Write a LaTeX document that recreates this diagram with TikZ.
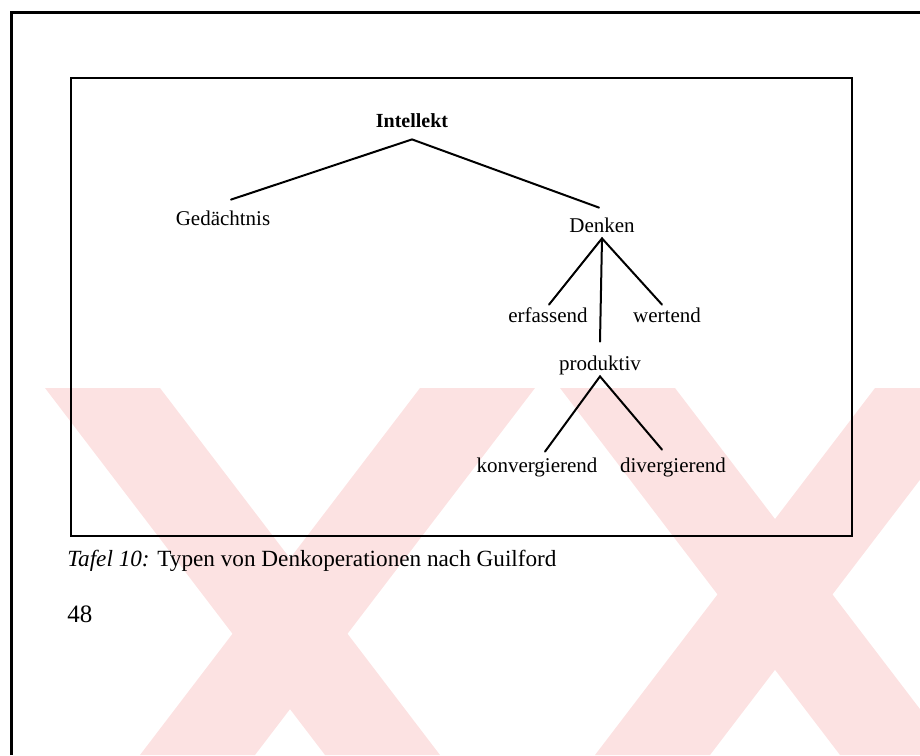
\documentclass[tikz,border=0pt]{standalone}
\usepackage{fontspec}
\setmainfont{Liberation Serif}
\usetikzlibrary{positioning}
\definecolor{wmpink}{RGB}{252, 226, 226}

\begin{document}
\begin{tikzpicture}[
  x=0.5pt, y=-0.5pt,
  lbl/.style={anchor=base, inner sep=0pt, text height=7pt, text depth=2pt, font=\fontsize{10.5}{12}\selectfont},
  tline/.style={line width=1pt, line cap=round},
  wm/.style={fill=wmpink}
]
  \useasboundingbox (0,0) rectangle (920,755);

  % watermark stripes
  \begin{scope}
    \clip (0,388) rectangle (920,755);
    \fill[wm] (45,388) -- (160,388) -- (440,755) -- (325,755) -- cycle;
    \fill[wm] (420,388) -- (535,388) -- (255,755) -- (140,755) -- cycle;
    \fill[wm] (560,388) -- (675,388) -- (955,755) -- (840,755) -- cycle;
    \fill[wm] (875,388) -- (990,388) -- (710,755) -- (595,755) -- cycle;
  \end{scope}

  % page edge and frame
  \draw[line width=1.5pt] (11,755) -- (11,12) -- (920,12);
  \draw[line width=0.8pt] (71,78) rectangle (852,536);

  \node[lbl, font=\fontsize{10}{12}\selectfont\bfseries] (intel) at (412,127) {Intellekt};
  \node[lbl] (gedaechtnis) at (223,225) {Gedächtnis};
  \node[lbl] (denken) at (602,232) {Denken};
  \node[lbl] (erfassend) at (548,322) {erfassend};
  \node[lbl] (wertend) at (667,322) {wertend};
  \node[lbl] (produktiv) at (600,370) {produktiv};
  \node[lbl] (konv) at (537,472) {konvergierend};
  \node[lbl] (div) at (673,472) {divergierend};

  \draw[tline] ([xshift=4pt, yshift=5.5pt]gedaechtnis.north) -- ([yshift=-4pt]intel.south)
    -- ([xshift=-1.5pt, yshift=5pt]denken.north);
  \draw[tline] ([xshift=0.5pt, yshift=1.5pt]erfassend.north) -- ([yshift=-1pt]denken.south)
    -- ([xshift=-2.5pt, yshift=1.5pt]wertend.north);
  \draw[tline] ([yshift=-1pt]denken.south) -- ([yshift=7pt]produktiv.north);
  \draw[tline] ([xshift=4pt, yshift=3pt]konv.north) -- ([yshift=-1pt]produktiv.south)
    -- ([xshift=-5.5pt, yshift=4pt]div.north);

  \node[anchor=base west, inner sep=0pt, font=\fontsize{11.6}{13}\selectfont] (caption) at (67,566)
    {\textit{Tafel 10:} Typen von Denkoperationen nach Guilford};
  \node[anchor=base west, inner sep=0pt, font=\fontsize{12.5}{14}\selectfont] (pagenum) at (67,622) {48};
\end{tikzpicture}
\end{document}
